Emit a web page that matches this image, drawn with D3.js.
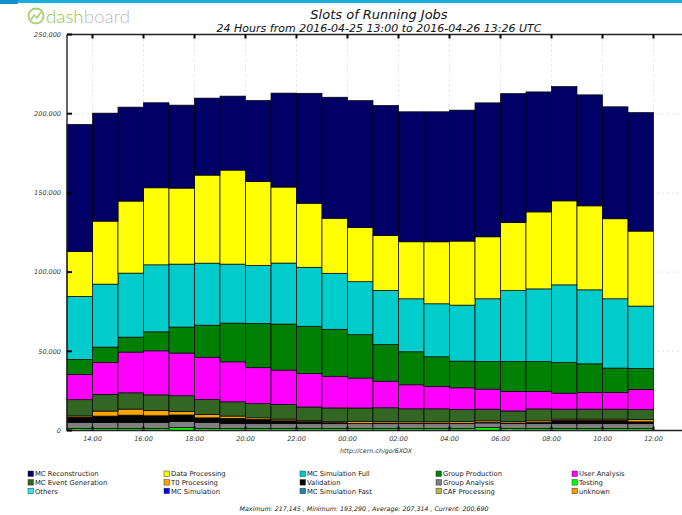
<!DOCTYPE html>
<html>
<head>
<meta charset="utf-8">
<script src="https://cdn.jsdelivr.net/npm/d3@7"></script>
<style>
  body { margin: 0; background: #fff; }
  text { font-family: "DejaVu Sans", sans-serif; }
</style>
</head>
<body>
<svg id="chart" width="682" height="515"></svg>
<script>
// hourly bins, 2016-04-25 13:00 .. 2016-04-26 11:00 UTC
var hours = ["2016-04-25T13:00", "2016-04-25T14:00", "2016-04-25T15:00", "2016-04-25T16:00",
             "2016-04-25T17:00", "2016-04-25T18:00", "2016-04-25T19:00", "2016-04-25T20:00",
             "2016-04-25T21:00", "2016-04-25T22:00", "2016-04-25T23:00", "2016-04-26T00:00",
             "2016-04-26T01:00", "2016-04-26T02:00", "2016-04-26T03:00", "2016-04-26T04:00",
             "2016-04-26T05:00", "2016-04-26T06:00", "2016-04-26T07:00", "2016-04-26T08:00",
             "2016-04-26T09:00", "2016-04-26T10:00", "2016-04-26T11:00"];

var mcReconstruction = [80190, 68170, 59320, 53670, 52370, 48620, 46700, 51120, 59320, 69420, 76400, 80180,
                        82050, 82050, 82070, 82670, 84570, 81420, 75750, 72170, 70070, 70670, 74800];
var dataProcessing   = [28400, 39780, 45480, 48630, 47980, 55580, 59350, 53030, 47980, 40430, 34750, 34120,
                        34750, 36000, 39130, 40430, 39130, 42930, 48600, 53030, 53030, 50530, 47340];
var mcSimFull        = [39800, 39750, 40400, 42300, 39750, 39150, 37250, 36600, 38500, 37250, 35350, 33450,
                        34100, 33450, 33450, 35350, 39600, 44800, 45900, 49050, 46700, 43750, 39350];
var groupProduction  = [9450, 9650, 9450, 12000, 16400, 20200, 24450, 27950, 29050, 29850, 29650, 27350,
                        23150, 20850, 18750, 16850, 17400, 18750, 18950, 19300, 18100, 15400, 13250];
var userAnalysis     = [16000, 20200, 25700, 27800, 26950, 26700, 25250, 22700, 21650, 21100, 20000, 18950,
                        16800, 15150, 14100, 13650, 12650, 12400, 10900, 10100, 10500, 10500, 12650];
var mcEventGen       = [10200, 10550, 10300, 9800, 10000, 9450, 9000, 8950, 9300, 8700, 8700, 8450,
                        8650, 8200, 8200, 7700, 7400, 6750, 7550, 6300, 6300, 6300, 6300];
var t0Processing     = [800, 3150, 3800, 3400, 2150, 2150, 1450, 1000, 1050, 650, 650, 1250,
                        1000, 900, 900, 1000, 1000, 900, 1000, 800, 800, 800, 1500];
var validation       = [3350, 4000, 4600, 4200, 4200, 2900, 3350, 2700, 1850, 1200, 600, 200,
                        400, 300, 300, 300, 300, 400, 800, 2100, 2100, 2100, 1200];
var groupAnalysis    = [3800, 3800, 3800, 3800, 3800, 3800, 3000, 3000, 3000, 3000, 3000, 3000,
                        3000, 3000, 3000, 3000, 3000, 3000, 3000, 3000, 3000, 3000, 3000];
var testing          = [1300, 1300, 1300, 1300, 1800, 1300, 1300, 1300, 1300, 1300, 1300, 1300,
                        1300, 1300, 1300, 1300, 1800, 1300, 1300, 1300, 1300, 1300, 1300];
var others           = [0, 0, 0, 0, 0, 0, 0, 0, 0, 0, 0, 0, 0, 0, 0, 0, 0, 0, 0, 0, 0, 0, 0];
var mcSimulation     = [0, 0, 0, 0, 0, 0, 0, 0, 0, 0, 0, 0, 0, 0, 0, 0, 0, 0, 0, 0, 0, 0, 0];
var mcSimFast        = [0, 0, 0, 0, 0, 0, 0, 0, 0, 0, 0, 0, 0, 0, 0, 0, 0, 0, 0, 0, 0, 0, 0];
var cafProcessing    = [0, 0, 0, 0, 0, 0, 0, 0, 0, 0, 0, 0, 0, 0, 0, 0, 0, 0, 0, 0, 0, 0, 0];
var unknown          = [0, 0, 0, 0, 0, 0, 0, 0, 0, 0, 0, 0, 0, 0, 0, 0, 0, 0, 0, 0, 0, 0, 0];

var yTicks = [0, 50000, 100000, 150000, 200000, 250000];
var summary = "Maximum: 217,145 , Minimum: 193,290 , Average: 207,314 , Current: 200,690";

// legend order (rows of five)
var series = [
    {name: "MC Reconstruction",   values: mcReconstruction, color: "#000066"},
    {name: "Data Processing",     values: dataProcessing,   color: "#ffff00"},
    {name: "MC Simulation Full",  values: mcSimFull,        color: "#00cccc"},
    {name: "Group Production",    values: groupProduction,  color: "#008000"},
    {name: "User Analysis",       values: userAnalysis,     color: "#ff00ff"},
    {name: "MC Event Generation", values: mcEventGen,       color: "#336622"},
    {name: "T0 Processing",       values: t0Processing,     color: "#ffa500"},
    {name: "Validation",          values: validation,       color: "#000000"},
    {name: "Group Analysis",      values: groupAnalysis,    color: "#808080"},
    {name: "Testing",             values: testing,          color: "#00ff00"},
    {name: "Others",              values: others,           color: "#33e6e6"},
    {name: "MC Simulation",       values: mcSimulation,     color: "#0000ff"},
    {name: "MC Simulation Fast",  values: mcSimFast,        color: "#1f88aa"},
    {name: "CAF Processing",      values: cafProcessing,    color: "#bcbc44"},
    {name: "unknown",             values: unknown,          color: "#ff9900"}
];

var parse = d3.utcParse("%Y-%m-%dT%H:%M");
var times = hours.map(parse);

var rows = times.map(function(t, i) {
    var r = {time: t};
    series.forEach(function(s) { r[s.name] = s.values[i]; });
    return r;
});

var plotLeft = 67, plotBottom = 430.5, plotTop = 34.5;

var x = d3.scaleUtc()
    .domain([times[0], d3.utcHour.offset(times[0], 25)])
    .range([plotLeft, plotLeft + 25 * 25.5]);

var y = d3.scaleLinear()
    .domain([0, 250000])
    .range([plotBottom, plotTop]);

var svg = d3.select("#chart");

// top strip + logo
svg.append("rect").attr("x", 0).attr("y", 0).attr("width", 682).attr("height", 3).attr("fill", "#19aee0");
svg.append("rect").attr("x", 0).attr("y", 0).attr("width", 18).attr("height", 4).attr("fill", "#1490c8");

var logo = svg.append("g").attr("transform", "translate(27,7)");
logo.append("circle").attr("cx", 9).attr("cy", 9).attr("r", 7.5)
    .attr("fill", "none").attr("stroke", "#a8cf72").attr("stroke-width", 1.8);
logo.append("path").attr("d", "M4,13 L7,8 L10,11 L14,5")
    .attr("fill", "none").attr("stroke", "#a8cf72").attr("stroke-width", 1.5);
logo.append("text").attr("x", 19).attr("y", 15.5)
    .style("font-size", "17px").style("font-family", "Lato, sans-serif").style("font-weight", 300)
    .attr("textLength", 84).attr("lengthAdjust", "spacingAndGlyphs")
    .selectAll("tspan")
    .data([{t: "dash", c: "#8cc63f"}, {t: "board", c: "#bdbdbd"}])
    .enter().append("tspan")
    .attr("fill", function(d) { return d.c; })
    .text(function(d) { return d.t; });

// titles
svg.append("text").attr("x", 379).attr("y", 19)
    .attr("text-anchor", "middle").style("font-size", "13px").style("font-style", "italic")
    .attr("fill", "#111").text("Slots of Running Jobs");
svg.append("text").attr("x", 379).attr("y", 31.5)
    .attr("text-anchor", "middle").style("font-size", "11px").style("font-style", "italic")
    .attr("fill", "#111").text("24 Hours from 2016-04-25 13:00 to 2016-04-26 13:26 UTC");

var xTicks = x.ticks(d3.utcHour.every(2));

// grid
svg.append("g").selectAll("line")
    .data(xTicks)
    .enter().append("line")
    .attr("x1", function(d) { return x(d); }).attr("x2", function(d) { return x(d); })
    .attr("y1", plotTop).attr("y2", plotBottom)
    .attr("stroke", "#d4d4d4").attr("stroke-width", 0.7).attr("stroke-dasharray", "2,3");
svg.append("g").selectAll("line")
    .data(yTicks.slice(1))
    .enter().append("line")
    .attr("x1", plotLeft).attr("x2", 682)
    .attr("y1", function(d) { return y(d); }).attr("y2", function(d) { return y(d); })
    .attr("stroke", "#d4d4d4").attr("stroke-width", 0.7).attr("stroke-dasharray", "2,3");

// stacked bars
var stack = d3.stack()
    .keys(series.map(function(s) { return s.name; }).reverse());
var layers = stack(rows);
var colorOf = {};
series.forEach(function(s) { colorOf[s.name] = s.color; });

svg.append("g").selectAll("g")
    .data(layers)
    .enter().append("g")
    .attr("fill", function(d) { return colorOf[d.key]; })
    .selectAll("rect")
    .data(function(d) { return d.filter(function(p) { return p[1] > p[0]; }); })
    .enter().append("rect")
    .attr("x", function(d) { return x(d.data.time); })
    .attr("width", function(d) { return x(d3.utcHour.offset(d.data.time, 1)) - x(d.data.time); })
    .attr("y", function(d) { return y(d[1]); })
    .attr("height", function(d) { return y(d[0]) - y(d[1]); })
    .attr("stroke", "#000").attr("stroke-width", 0.7);

// frame
var frame = svg.append("g").attr("stroke", "#222").attr("stroke-width", 1.4);
frame.append("line").attr("x1", plotLeft).attr("x2", plotLeft).attr("y1", plotTop).attr("y2", plotBottom + 0.7);
frame.append("line").attr("x1", plotLeft).attr("x2", 682).attr("y1", plotTop).attr("y2", plotTop);
frame.append("line").attr("x1", plotLeft).attr("x2", 682).attr("y1", plotBottom).attr("y2", plotBottom);

// y axis ticks + labels
var fmt = d3.format(",");
svg.append("g").selectAll("line")
    .data(yTicks)
    .enter().append("line")
    .attr("x1", plotLeft).attr("x2", plotLeft + 5)
    .attr("y1", function(d) { return y(d); }).attr("y2", function(d) { return y(d); })
    .attr("stroke", "#000").attr("stroke-width", 2);
svg.append("g").selectAll("text")
    .data(yTicks)
    .enter().append("text")
    .attr("x", 61).attr("y", function(d) { return y(d) + 2.3; })
    .attr("text-anchor", "end").style("font-size", "6.5px").style("font-style", "italic")
    .attr("fill", "#333")
    .text(function(d) { return fmt(d); });

// x axis ticks + labels
var xt = svg.append("g");
xt.selectAll("line.b")
    .data(xTicks)
    .enter().append("line").attr("class", "b")
    .attr("x1", function(d) { return x(d); }).attr("x2", function(d) { return x(d); })
    .attr("y1", plotBottom).attr("y2", plotBottom - 4)
    .attr("stroke", "#000").attr("stroke-width", 2);
xt.selectAll("line.t")
    .data(xTicks)
    .enter().append("line").attr("class", "t")
    .attr("x1", function(d) { return x(d); }).attr("x2", function(d) { return x(d); })
    .attr("y1", plotTop).attr("y2", plotTop + 4)
    .attr("stroke", "#000").attr("stroke-width", 2);
xt.selectAll("text")
    .data(xTicks.filter(function(d) { return x(d) < 670; }))
    .enter().append("text")
    .attr("x", function(d) { return x(d); }).attr("y", 441)
    .attr("text-anchor", "middle").style("font-size", "6.5px").style("font-style", "italic")
    .attr("fill", "#333")
    .text(d3.utcFormat("%H:%M"));

svg.append("text").attr("x", 376).attr("y", 453)
    .attr("text-anchor", "middle").style("font-size", "6.3px").style("font-style", "italic")
    .attr("fill", "#333").text("http://cern.ch/go/6XOX");

// legend
var leg = svg.append("g").selectAll("g")
    .data(series)
    .enter().append("g")
    .attr("transform", function(d, i) {
        return "translate(" + (28 + (i % 5) * 136) + "," + (471 + Math.floor(i / 5) * 8.6) + ")";
    });
leg.append("rect").attr("width", 5.5).attr("height", 5.5)
    .attr("fill", function(d) { return d.color; })
    .attr("stroke", "#333").attr("stroke-width", 0.5);
leg.append("text").attr("x", 7).attr("y", 5.3)
    .style("font-size", "6.8px").attr("fill", "#222")
    .text(function(d) { return d.name; });

svg.append("text").attr("x", 364).attr("y", 511)
    .attr("text-anchor", "middle").style("font-size", "6.3px").style("font-style", "italic")
    .attr("fill", "#222").text(summary);
</script>
</body>
</html>
